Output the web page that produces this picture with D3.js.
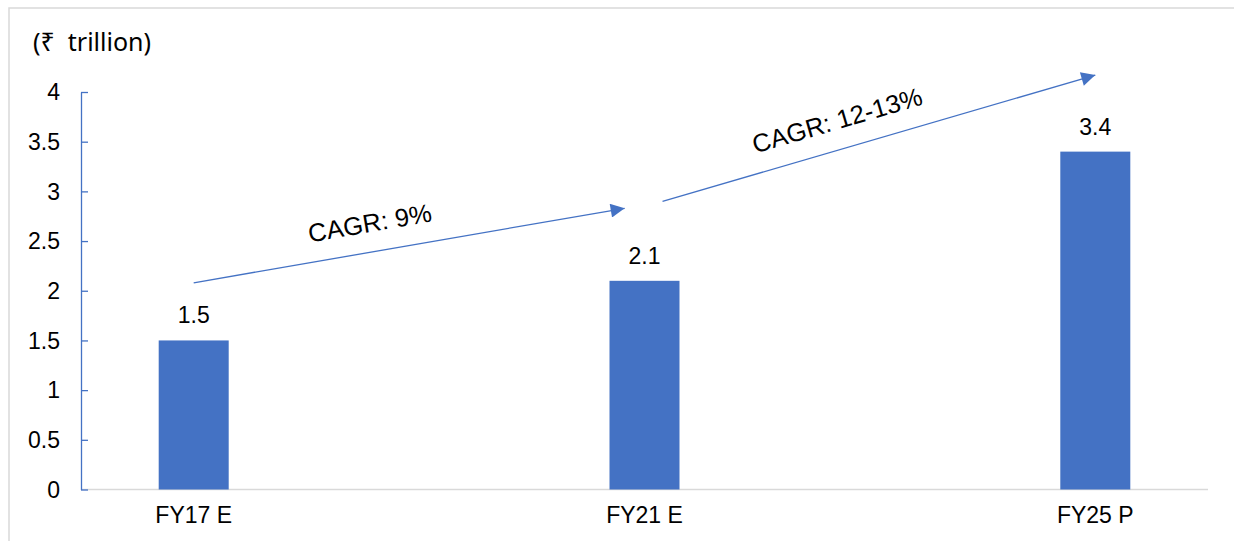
<!DOCTYPE html>
<html><head><meta charset="utf-8">
<script src="https://cdn.jsdelivr.net/npm/d3@7"></script>
<style>body{margin:0;background:#fff}svg{display:block}</style>
</head><body><div id="chart"></div>
<script>
const categories = ["FY17 E", "FY21 E", "FY25 P"];
const values = [1.5, 2.1, 3.4];
const valueLabels = ["1.5", "2.1", "3.4"];
const yTicks = [0, 0.5, 1, 1.5, 2, 2.5, 3, 3.5, 4];
const unitLabel = "(₹  trillion)";
// CAGR annotations in data space
const cagrFrom = ["FY17 E", "FY21 E"];
const cagrTo = ["FY21 E", "FY25 P"];
const cagrFromVal = [2.08, 2.9];
const cagrToVal = [2.83, 4.17];
const cagrFromShift = [0, 0.02];
const cagrToShift = [-0.022, 0];
const cagrLabels = ["CAGR: 9%", "CAGR: 12-13%"];

(function () {
const W = 1234, H = 541;
const pLeft = 81, pRight = 1208, pTop = 92, pBottom = 489.5;
const blue = "#4472C4";
const svg = d3.select("#chart").append("svg").attr("width", W).attr("height", H);

svg.append("rect").attr("x", 9).attr("y", 8).attr("width", W + 10).attr("height", H + 10)
  .attr("fill", "none").attr("stroke", "#d9d9d9").attr("stroke-width", 1.5);

const x = d3.scalePoint().domain(categories).range([pLeft, pRight]).padding(0.25);
const y = d3.scaleLinear().domain([0, 4]).range([pBottom, pTop]);
const step = x.step();
const barW = 70;

svg.append("line").attr("x1", pLeft).attr("x2", pRight).attr("y1", y(0)).attr("y2", y(0))
  .attr("stroke", "#d9d9d9").attr("stroke-width", 1.5);

svg.selectAll("rect.bar").data(values).join("rect").attr("class", "bar")
  .attr("x", (d, i) => x(categories[i]) - barW / 2)
  .attr("width", barW)
  .attr("y", d => y(d))
  .attr("height", d => y(0) - y(d))
  .attr("fill", blue);

const yAxis = d3.axisLeft(y).tickValues(yTicks).tickFormat(d3.format("~g"))
  .tickSizeInner(-7).tickSizeOuter(0).tickPadding(21);
const gy = svg.append("g").attr("transform", `translate(${pLeft},0)`).call(yAxis);
gy.select(".domain").attr("stroke", blue).attr("stroke-width", 1.3);
gy.selectAll(".tick line").attr("stroke", blue).attr("stroke-width", 1.3);
gy.selectAll(".tick text").attr("font-family", "Liberation Sans, Arial, sans-serif")
  .attr("font-size", 23).attr("fill", "#000").attr("dy", "0.34em");

svg.selectAll("text.xl").data(categories).join("text").attr("class", "xl")
  .attr("x", d => x(d)).attr("y", 523).attr("text-anchor", "middle")
  .attr("font-family", "Liberation Sans, Arial, sans-serif").attr("font-size", 23).attr("fill", "#000")
  .text(d => d);

svg.selectAll("text.vl").data(values).join("text").attr("class", "vl")
  .attr("x", (d, i) => x(categories[i])).attr("y", d => y(d) - 17).attr("text-anchor", "middle")
  .attr("font-family", "Liberation Sans, Arial, sans-serif").attr("font-size", 23).attr("fill", "#000")
  .text((d, i) => valueLabels[i]);

svg.append("text").attr("x", 33).attr("y", 51)
  .attr("font-family", "Noto Sans, DejaVu Sans, sans-serif").attr("font-size", 25).attr("fill", "#000")
  .attr("xml:space", "preserve").style("white-space", "pre")
  .text(unitLabel);

svg.append("defs").append("marker").attr("id", "ah").attr("viewBox", "0 0 10 10")
  .attr("refX", 10).attr("refY", 5).attr("markerUnits", "userSpaceOnUse")
  .attr("markerWidth", 16).attr("markerHeight", 14).attr("orient", "auto")
  .append("path").attr("d", "M0,0 L10,5 L0,10 Z").attr("fill", blue);

cagrLabels.forEach((lab, i) => {
  const x1 = x(cagrFrom[i]) + cagrFromShift[i] * step * 2;
  const y1 = y(cagrFromVal[i]);
  const x2 = x(cagrTo[i]) + cagrToShift[i] * step * 2;
  const y2 = y(cagrToVal[i]);
  svg.append("line").attr("x1", x1).attr("y1", y1).attr("x2", x2).attr("y2", y2)
    .attr("stroke", blue).attr("stroke-width", 1.3).attr("marker-end", "url(#ah)");
  const ang = Math.atan2(y2 - y1, x2 - x1) * 180 / Math.PI;
  const rad = ang * Math.PI / 180;
  const along = -35, off = 20;
  const mx = (x1 + x2) / 2 + Math.cos(rad) * along, my = (y1 + y2) / 2 + Math.sin(rad) * along;
  const tx = mx + Math.sin(rad) * off, ty = my - Math.cos(rad) * off;
  svg.append("text").attr("transform", `translate(${tx},${ty}) rotate(${ang})`)
    .attr("text-anchor", "middle")
    .attr("font-family", "Liberation Sans, Arial, sans-serif").attr("font-size", 25.5).attr("fill", "#000")
    .text(lab);
});
})();
</script></body></html>
